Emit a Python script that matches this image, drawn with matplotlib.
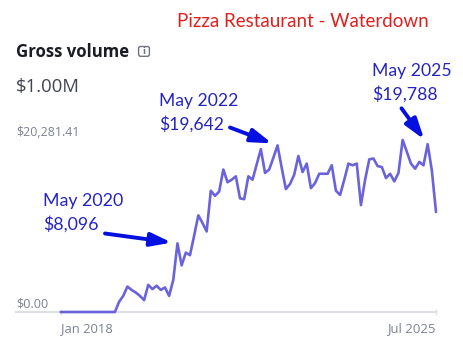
import matplotlib
matplotlib.use("Agg")
import matplotlib.pyplot as plt
import matplotlib.transforms as mtransforms
from matplotlib.patches import FancyBboxPatch
import pandas as pd

W, H = 464, 348

# Monthly gross volume, Jan 2018 – Jul 2025 (USD)
months = pd.date_range("2018-01-01", "2025-07-01", freq="MS")
gross = [
    0, 0, 0, 0, 0, 0, 0, 0, 0, 0, 0, 0, 0, 0,                              # Jan 2018 – Feb 2019
    1200, 1900, 3000, 2600, 2300, 1900, 1400, 3200, 2700, 3100,          # Mar – Dec 2019
    2600, 2900, 1900, 3800, 8096, 5500, 7000, 6700, 9000, 11400, 10500, 9500,        # 2020
    14300, 13700, 14200, 16800, 15300, 15600, 16000, 13400, 13300, 16000, 15600, 17400,  # 2021
    19200, 16400, 16800, 18200, 19642, 17000, 14500, 15100, 16200, 18400, 16500, 17500,  # 2022
    14600, 15200, 16300, 16300, 16300, 17300, 14300, 13800, 15600, 17500, 17300, 17500,  # 2023
    12600, 15600, 18000, 18100, 17200, 17100, 15800, 16300, 15400, 16400, 20281.41, 18900,  # 2024
    17500, 16900, 17700, 17300, 19788, 16700, 11800,                     # Jan – Jul 2025
]
x_tick_labels = ["Jan 2018", "Jul 2025"]
callout_months = ["May 2020", "May 2022", "May 2025"]

title = "Pizza Restaurant - Waterdown"
metric_name = "Gross volume"
metric_total = "$1.00M"

LINE = "#6a63dc"
AXIS = "#dde1e6"
MUTED = "#7b8290"
INK = "#1a1b25"
TOTAL = "#414552"
RED = "#e0201e"
BLUE_TXT = "#2424c4"
BLUE_ARR = "#0410e0"

UI_FONT = ["Open Sans", "DejaVu Sans"]
NOTE_FONT = ["Lato", "DejaVu Sans"]

fig = plt.figure(figsize=(W / 100, H / 100), dpi=100)
fig.patch.set_facecolor("white")


def fy(y):
    """top-based pixel row -> figure fraction"""
    return 1 - y / H


def fx(x):
    return x / W


# plot area: x from 16 px to 436 px, baseline at 312 px, top at 140 px
ax_left, ax_right, ax_bottom, ax_top = 16, 436, 312, 140
ax = fig.add_axes([fx(ax_left), fy(ax_bottom), fx(ax_right - ax_left),
                   (ax_bottom - ax_top) / H])

idx = list(range(len(gross)))
ymax = max(gross)
ax.plot(idx, gross, color=LINE, lw=1.9, solid_joinstyle="round",
        solid_capstyle="round", clip_on=False, zorder=3)

n = len(gross) - 1
px_per_month = (ax_right - 60.7) / n
ax.set_xlim(-(60.7 - ax_left) / px_per_month, n)
ax.set_ylim(0, ymax)
ax.set_facecolor("none")
for side in ("left", "right", "top"):
    ax.spines[side].set_visible(False)
ax.spines["bottom"].set_color(AXIS)
ax.spines["bottom"].set_linewidth(1.6)
ax.set_yticks([])
ax.set_xticks([0, n])
ax.tick_params(axis="x", direction="inout", length=5, width=1.0,
               color=AXIS, labelbottom=False)

texts = []  # (text, target width px)

# x labels
xt = ax.get_xaxis_transform()
base_off = -(331.7 - ax_bottom) / (ax_bottom - ax_top)
t = ax.text(0, base_off, x_tick_labels[0], transform=xt, ha="left",
            va="baseline", color=MUTED, family=UI_FONT, fontsize=8)
texts.append((t, 52))
t = ax.text(n, base_off, x_tick_labels[1], transform=xt, ha="right",
            va="baseline", color=MUTED, family=UI_FONT, fontsize=8)
texts.append((t, 48.7))

# y labels (range bounds)
t = ax.annotate(f"${ymax:,.2f}", xy=(0, ymax), xycoords=("axes fraction", "data"),
                xytext=(0, 4 * 0.72), textcoords="offset points", ha="left",
                va="baseline", color=MUTED, family=UI_FONT, fontsize=8)
texts.append((t, 63.3))
t = ax.annotate("$0.00", xy=(0, 0), xycoords=("axes fraction", "data"),
                xytext=(0, 5 * 0.72), textcoords="offset points", ha="left",
                va="baseline", color=MUTED, family=UI_FONT, fontsize=8)
texts.append((t, 32.3))

# header
t = fig.text(fx(176.7), fy(26.8), title, color=RED, family=NOTE_FONT,
             fontsize=12, va="baseline", ha="left")
texts.append((t, 250))
t = fig.text(fx(16), fy(56.8), metric_name, color=INK, family=UI_FONT,
             fontweight="bold", fontsize=10, va="baseline", ha="left")
texts.append((t, 113.3))
t = fig.text(fx(16), fy(92.3), metric_total, color=TOTAL, family=UI_FONT,
             fontsize=12, va="baseline", ha="left")
texts.append((t, 64))

# info icon next to the metric name
px_tr = fig.dpi_scale_trans
icon = FancyBboxPatch(((138.6) / 100, (H - 56.3) / 100), 10.8 / 100, 9.8 / 100,
                      boxstyle="round,pad=0,rounding_size=0.02",
                      transform=px_tr, fill=False, edgecolor="#6d7380", lw=1.0)
fig.add_artist(icon)
fig.text(fx(144.0), fy(51.3), "i", color="#6d7380", family=["DejaVu Sans"],
         fontsize=6.0, fontweight="bold", ha="center", va="center")

# callouts: label position (left, baseline of first line), arrow tail
callout_layout = {
    "May 2020": dict(x=42.7, y1=206.0, y2=229.3, w=80, tail=(105, 233.5)),
    "May 2022": dict(x=159.3, y1=106.0, y2=129.3, w=79, tail=(230, 127.5)),
    "May 2025": dict(x=371.7, y1=75.8, y2=99.3, w=79.3, tail=(401.5, 108.3)),
}
month_names = [d.strftime("%b %Y") for d in months]
note_pairs = []
for name in callout_months:
    i = month_names.index(name)
    lay = callout_layout[name]
    t1 = fig.text(fx(lay["x"]), fy(lay["y1"]), name, color=BLUE_TXT,
                  family=NOTE_FONT, fontsize=12, va="baseline", ha="left")
    t2 = fig.text(fx(lay["x"]), fy(lay["y2"]), f"${gross[i]:,.0f}",
                  color=BLUE_TXT, family=NOTE_FONT, fontsize=12,
                  va="baseline", ha="left")
    note_pairs.append((t1, t2, lay["w"]))
    tx, ty = lay["tail"]
    ax.annotate("", xy=(i, gross[i]), xycoords="data",
                xytext=(fx(tx), fy(ty)), textcoords="figure fraction",
                arrowprops=dict(arrowstyle="-|>,head_length=0.62,head_width=0.2",
                                mutation_scale=20, color=BLUE_ARR, lw=2.8,
                                shrinkA=0, shrinkB=4.2),
                annotation_clip=False)

# size text to its measured width
fig.canvas.draw()
renderer = fig.canvas.get_renderer()
for t, w in texts:
    cur = t.get_window_extent(renderer).width
    t.set_fontsize(t.get_fontsize() * w / cur)
for t1, t2, w in note_pairs:
    cur = t1.get_window_extent(renderer).width
    size = t1.get_fontsize() * w / cur
    t1.set_fontsize(size)
    t2.set_fontsize(size)

fig.savefig("out.png", dpi=100, facecolor="white")
